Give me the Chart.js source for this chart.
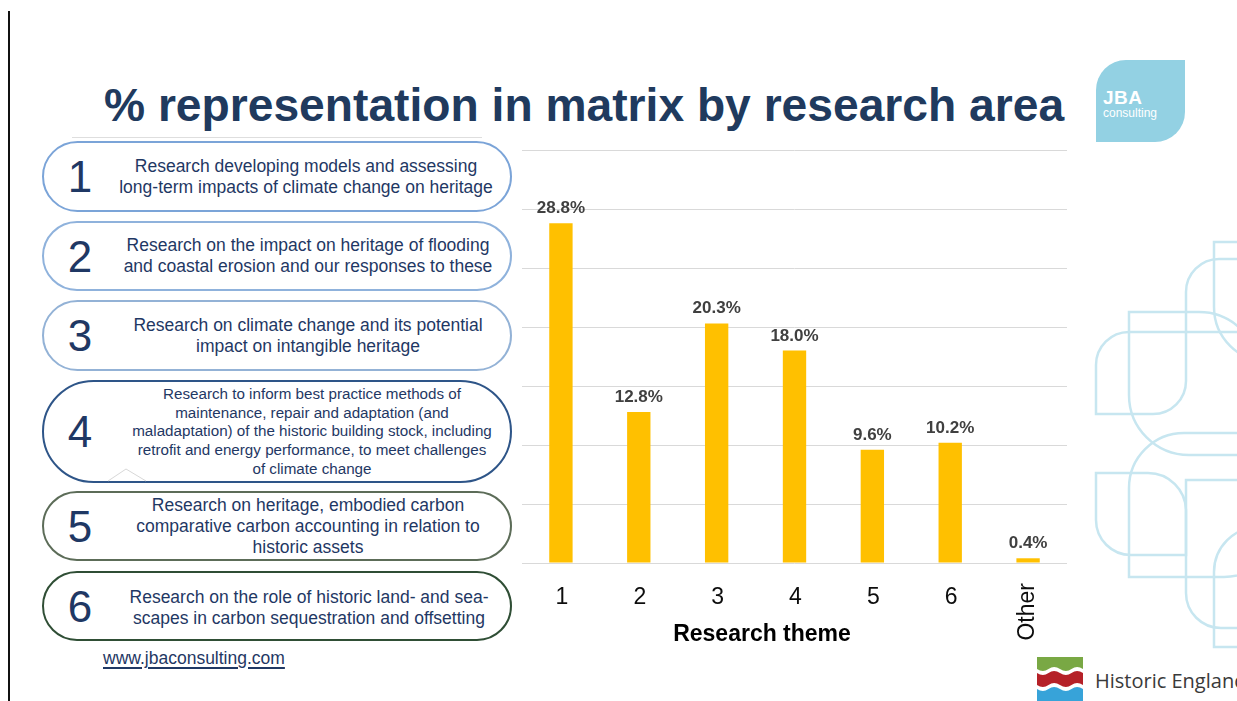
<!DOCTYPE html>
<html>
<head>
<meta charset="utf-8">
<script src="https://cdn.jsdelivr.net/npm/chart.js@4/dist/chart.umd.min.js"></script>
<style>
  html,body{margin:0;padding:0;background:#fff;}
  body{width:1237px;height:701px;position:relative;overflow:hidden;font-family:"Liberation Sans",Arial,sans-serif;}
  .vline{position:absolute;left:8px;top:11px;width:2px;height:700px;background:#111;}
  .title{position:absolute;left:104px;top:78px;font-weight:bold;font-size:46.2px;color:#203a5e;white-space:nowrap;line-height:54px;}
  .tline{position:absolute;left:72px;top:137px;width:410px;height:1px;background:#dedede;}
  .pill{position:absolute;left:42px;width:470px;border-style:solid;border-width:2.5px;background:#fff;box-sizing:border-box;}
  .num{position:absolute;left:0;width:72px;text-align:center;font-size:44px;color:#1f3864;}
  .txt{position:absolute;text-align:center;color:#1f3864;font-size:17.5px;line-height:21px;white-space:nowrap;}
  .url{position:absolute;left:103px;top:648px;font-size:17.5px;color:#1f3864;text-decoration:underline;text-decoration-thickness:2px;text-underline-offset:3px;}
  #wrap{position:absolute;left:500px;top:130px;width:590px;height:545px;}
  .jba{position:absolute;left:1096px;top:60px;width:89px;height:82px;background:#93d1e3;border-radius:30px 0 30px 0;}
  .jba .b{position:absolute;left:7px;top:27px;color:#fff;font-weight:bold;font-size:19px;letter-spacing:0.5px;}
  .jba .c{position:absolute;left:7px;top:46px;color:#fff;font-size:12px;}
  .he{position:absolute;left:1095px;top:667px;font-family:"Open Sans",sans-serif;font-size:20px;color:#3a3a3a;white-space:nowrap;}
</style>
</head>
<body>
<div class="vline"></div>
<div class="title">% representation in matrix by research area</div>
<div class="tline"></div>

<div class="pill" style="top:141px;height:71px;border-radius:36px;border-color:#7ba4d8;">
  <div class="num" style="top:9px;">1</div>
  <div class="txt" style="left:68px;width:388px;top:13px;">Research developing models and assessing<br>long-term impacts of climate change on heritage</div>
</div>
<div class="pill" style="top:221px;height:70px;border-radius:35px;border-color:#8fb2dc;">
  <div class="num" style="top:9px;">2</div>
  <div class="txt" style="left:70px;width:388px;top:12px;">Research on the impact on heritage of flooding<br>and coastal erosion and our responses to these</div>
</div>
<div class="pill" style="top:300px;height:71px;border-radius:36px;border-color:#93b2d6;">
  <div class="num" style="top:9px;">3</div>
  <div class="txt" style="left:70px;width:388px;top:13px;">Research on climate change and its potential<br>impact on intangible heritage</div>
</div>
<div class="pill" style="top:380px;height:103px;border-radius:52px;border-color:#2e5588;">
  <div class="num" style="top:25px;">4</div>
  <div class="txt" style="left:74px;width:388px;top:3px;font-size:15.2px;line-height:18.7px;">Research to inform best practice methods of<br>maintenance, repair and adaptation (and<br>maladaptation) of the historic building stock, including<br>retrofit and energy performance, to meet challenges<br>of climate change</div>
</div>
<div class="pill" style="top:491px;height:70px;border-radius:35px;border-color:#5c6c58;">
  <div class="num" style="top:9px;">5</div>
  <div class="txt" style="left:70px;width:388px;top:2px;">Research on heritage, embodied carbon<br>comparative carbon accounting in relation to<br>historic assets</div>
</div>
<div class="pill" style="top:571px;height:70px;border-radius:35px;border-color:#2f4e35;">
  <div class="num" style="top:9px;">6</div>
  <div class="txt" style="left:71px;width:388px;top:14px;">Research on the role of historic land- and sea-<br>scapes in carbon sequestration and offsetting</div>
</div>
<div class="url">www.jbaconsulting.com</div>

<svg style="position:absolute;left:0;top:0;" width="1237" height="701">
  <polyline points="108,481 126,469 146,481" fill="none" stroke="#d8d8d8" stroke-width="1"/>
  <g id="deco" fill="none" stroke="#c7e6f0" stroke-width="2.5"></g>
  <g transform="translate(1037,657)">
    <rect x="0" y="0" width="46" height="44" fill="#fff"/>
    <path d="M0,0 H46 V12 Q40,8 34.5,12 Q29,16 23,12 Q17,8 11.5,12 Q6,16 0,12 Z" fill="#79a844"/>
    <path d="M0,16 Q6,20 11.5,16 Q17,12 23,16 Q29,20 34.5,16 Q40,12 46,16 V28 Q40,24 34.5,28 Q29,32 23,28 Q17,24 11.5,28 Q6,32 0,28 Z" fill="#b52128"/>
    <path d="M0,32 Q6,36 11.5,32 Q17,28 23,32 Q29,36 34.5,32 Q40,28 46,32 V44 H0 Z" fill="#37a3d9"/>
  </g>
</svg>
<div class="jba"><div class="b">JBA</div><div class="c">consulting</div></div>
<div class="he">Historic England</div>

<div id="wrap"><canvas id="c"></canvas></div>

<script>
// ---- data ----
const categories = ['1', '2', '3', '4', '5', '6', 'Other'];
const shares = [28.8, 12.8, 20.3, 18.0, 9.6, 10.2, 0.4];
const axisTitle = 'Research theme';
const yMax = 35;
const yStep = 5;

// ---- decorative outlines ----
function leaf(x, y, w, h, r) {
  const [tl, tr, br, bl] = r;
  return `M${x+tl},${y} H${x+w-tr} ` + (tr ? `A${tr},${tr} 0 0 1 ${x+w},${y+tr} ` : '') +
         `V${y+h-br} ` + (br ? `A${br},${br} 0 0 1 ${x+w-br},${y+h} ` : '') +
         `H${x+bl} ` + (bl ? `A${bl},${bl} 0 0 1 ${x},${y+h-bl} ` : '') +
         `V${y+tl} ` + (tl ? `A${tl},${tl} 0 0 1 ${x+tl},${y} ` : '') + 'Z';
}
const decoShapes = [
  [1096, 332, 90, 82, [33, 0, 33, 0]],
  [1186, 259, 110, 73, [33, 0, 33, 0]],
  [1129, 312, 130, 143, [0, 60, 0, 60]],
  [1214, 242, 100, 120, [0, 55, 0, 55]],
  [1096, 473, 90, 82, [0, 38, 0, 35]],
  [1129, 433, 150, 144, [55, 0, 55, 0]],
  [1186, 480, 110, 148, [0, 35, 0, 35]],
  [1214, 527, 100, 120, [45, 0, 45, 0]]
];
const g = document.getElementById('deco');
decoShapes.forEach(s => {
  const p = document.createElementNS('http://www.w3.org/2000/svg', 'path');
  p.setAttribute('d', leaf(...s));
  g.appendChild(p);
});

// ---- chart ----
const FONT = '"Liberation Sans", Arial, sans-serif';
const labelPlugin = {
  id: 'customLabels',
  afterDatasetsDraw(chart) {
    const ctx = chart.ctx;
    const area = chart.chartArea;
    const meta = chart.getDatasetMeta(0);
    const xs = chart.scales.x;
    ctx.save();
    // value labels
    ctx.font = 'bold 17px ' + FONT;
    ctx.fillStyle = '#404040';
    ctx.textAlign = 'center';
    ctx.textBaseline = 'alphabetic';
    meta.data.forEach((bar, i) => {
      ctx.fillText(shares[i].toFixed(1) + '%', bar.x, bar.y - 10);
    });
    // category labels
    ctx.font = '23px ' + FONT;
    ctx.fillStyle = '#0d0d0d';
    categories.forEach((c, i) => {
      const x = xs.getPixelForTick(i);
      if (c.length > 2) {
        ctx.save();
        ctx.translate(x, area.bottom + 20);
        ctx.rotate(-Math.PI / 2);
        ctx.textAlign = 'right';
        ctx.textBaseline = 'middle';
        ctx.fillText(c, 0, 0);
        ctx.restore();
      } else {
        ctx.textAlign = 'center';
        ctx.textBaseline = 'middle';
        ctx.fillText(c, x + 1, area.bottom + 35);
      }
    });
    // axis title
    ctx.font = 'bold 23px ' + FONT;
    ctx.fillStyle = '#000';
    ctx.textAlign = 'center';
    ctx.textBaseline = 'middle';
    ctx.fillText(axisTitle, area.left + 240, area.bottom + 72);
    ctx.restore();
  }
};

new Chart(document.getElementById('c'), {
  type: 'bar',
  data: {
    labels: categories,
    datasets: [{
      data: shares,
      backgroundColor: '#ffc000',
      barPercentage: 0.3,
      categoryPercentage: 1.0
    }]
  },
  options: {
    responsive: true,
    maintainAspectRatio: false,
    animation: false,
    layout: { padding: { left: 22, right: 23, top: 20, bottom: 112 } },
    plugins: { legend: { display: false }, tooltip: { enabled: false } },
    scales: {
      x: { display: false },
      y: {
        min: 0, max: yMax,
        ticks: { display: false, stepSize: yStep },
        border: { display: false },
        grid: { color: '#d9d9d9', lineWidth: 1, drawTicks: false }
      }
    }
  },
  plugins: [labelPlugin]
});
</script>
</body>
</html>
